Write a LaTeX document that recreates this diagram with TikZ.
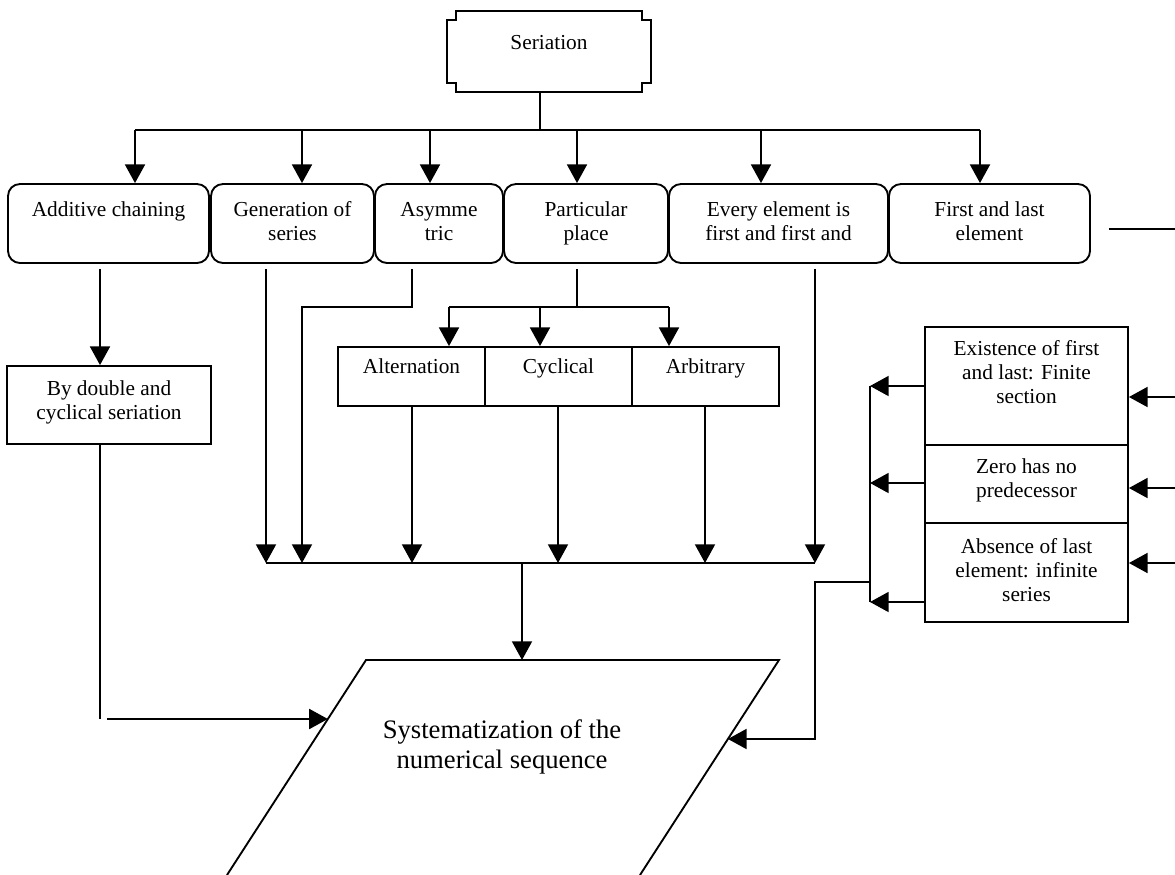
\documentclass[tikz,border=0pt]{standalone}
\usepackage{fontspec}
\setmainfont{Liberation Serif}
\usetikzlibrary{arrows.meta,calc}
\newcommand\liftby[2]{\raisebox{#1}[\height][\depth]{\begin{tabular}{@{}c@{}}#2\end{tabular}}}
\begin{document}
\begin{tikzpicture}[x=0.75pt,y=-0.75pt,line width=1.4pt,
  font=\fontsize{16}{18}\selectfont,
  arr/.style={-{Triangle[length=14pt,width=15pt]}},
  gap/.style={shorten <=3.75pt},
  box/.style={draw,inner sep=0pt,align=center},
  rbox/.style={box,rounded corners=9pt},
  wh/.style 2 args={minimum width=#1*0.75pt,minimum height=#2*0.75pt}]
\useasboundingbox (0,0) rectangle (1175,875);

% top node
\node[inner sep=0pt,wh={202}{79}] (ser) at (549,51.5) {\liftby{5pt}{Seriation}};
\draw ([xshift=6.75pt]ser.north west) -- ([xshift=-6.75pt]ser.north east)
  -- ++(0pt,-6.75pt) -- ++(6.75pt,0pt) -- ([yshift=6.75pt]ser.south east)
  -- ++(-6.75pt,0pt) -- ++(0pt,-6.75pt) -- ([xshift=6.75pt]ser.south west)
  -- ++(0pt,6.75pt) -- ++(-6.75pt,0pt) -- ([yshift=-6.75pt]ser.north west)
  -- ++(6.75pt,0pt) -- cycle;

% first row
\node[rbox,wh={201}{79}] (add) at (108.5,223.5) {\liftby{0pt}{Additive chaining\\ \mbox{}}};
\node[rbox,wh={163}{79}] (gen) at (292.5,223.5) {\liftby{0pt}{Generation of\\series}};
\node[rbox,wh={128}{79}] (asy) at (439,223.5) {\liftby{0pt}{Asymme\\tric}};
\node[rbox,wh={164}{79}] (par) at (586,223.5) {\liftby{0pt}{Particular\\place}};
\node[rbox,wh={219}{79}] (eve) at (778.5,223.5) {\liftby{0pt}{Every element is\\first and first and}};
\node[rbox,wh={201}{79}] (fal) at (989.5,223.5) {\liftby{0pt}{First and last\\element}};

% other boxes
\node[box,wh={204}{78}] (bd) at (109,405) {\liftby{1.5pt}{By double and\\cyclical seriation}};
\node[box,wh={147}{59}] (alt) at (411.5,376.5) {\liftby{5.6pt}{Alternation}};
\node[box,wh={147}{59}] (cyc) at (558.5,376.5) {\liftby{5.6pt}{Cyclical}};
\node[box,wh={147}{59}] (arb) at (705.5,376.5) {\liftby{5.6pt}{Arbitrary}};
\node[box,wh={203}{118}] (ex) at (1026.5,386) {\liftby{8.25pt}{Existence of first\\and last: Finite\\section}};
\node[box,wh={203}{78}] (zero) at (1026.5,484) {\liftby{2.6pt}{Zero has no\\predecessor}};
\node[box,wh={203}{99}] (abs) at (1026.5,572.5) {\liftby{0pt}{Absence of last\\element: infinite\\series}};

% parallelogram
\coordinate (pTL) at (366,660);
\coordinate (pTR) at (779,660);
\coordinate (pBL) at (227,875);
\coordinate (pBR) at (640,875);
\draw (pBL) -- (pTL) -- (pTR) -- (pBR);
\node[font=\fontsize{20}{22.5}\selectfont,align=center,inner sep=0pt] (sys) at (502,747)
  {Systematization of the\\numerical sequence};
\coordinate (lt) at ($(pTL)!0.2744!(pBL)$);
\coordinate (rt) at ($(pTR)!0.3674!(pBR)$);

% top bus
\coordinate (b0) at (540,130);
\coordinate (t1) at (135,130);
\coordinate (t2) at (302,130);
\coordinate (t3) at (430,130);
\coordinate (t4) at (577,130);
\coordinate (t5) at (761,130);
\coordinate (t6) at (980,130);
\draw (ser.south -| b0) -- (b0);
\draw (t1) -- (t6);
\draw[arr] (t1) -- (t1 |- add.north);
\draw[arr] (t2) -- (t2 |- gen.north);
\draw[arr] (t3) -- (t3 |- asy.north);
\draw[arr] (t4) -- (t4 |- par.north);
\draw[arr] (t5) -- (t5 |- eve.north);
\draw[arr] (t6) -- (t6 |- fal.north);

% left branch
\coordinate (xa) at (100,0);
\draw[arr,gap] (add.south -| xa) -- (bd.north -| xa);
\draw (bd.south -| xa) -- (xa |- lt);
\draw[arr] ($(xa |- lt)+(7,0)$) -- (lt);

% collecting bus
\coordinate (m1) at (266,563);
\coordinate (m2) at (302,563);
\coordinate (m3) at (412,563);
\coordinate (m4) at (558,563);
\coordinate (m5) at (705,563);
\coordinate (m6) at (815,563);
\coordinate (mc) at (522,563);
\coordinate (asyTurn) at (412,307);
\coordinate (asyDown) at (302,307);
\coordinate (parTurn) at (577,307);
\coordinate (s1) at (449,307);
\coordinate (s2) at (540,307);
\coordinate (s3) at (669,307);

\draw[arr,gap] (gen.south -| m1) -- (m1);
\draw[arr,gap] (asy.south -| asyTurn) -- (asyTurn) -- (asyDown) -- (m2);
\draw[gap] (par.south -| parTurn) -- (parTurn);
\draw (s1) -- (s3);
\draw[arr] (s1) -- (s1 |- alt.north);
\draw[arr] (s2) -- (s2 |- cyc.north);
\draw[arr] (s3) -- (s3 |- arb.north);
\draw[arr] (alt.south -| m3) -- (m3);
\draw[arr] (cyc.south -| m4) -- (m4);
\draw[arr] (arb.south -| m5) -- (m5);
\draw[arr,gap] (eve.south -| m6) -- (m6);
\draw (m1) -- (m6);
\draw[arr] (mc) -- (mc |- pTL);

% right side
\coordinate (fr) at (1175,229);
\draw ($(fal.east |- fr)+(18,0)$) -- (fr);
\coordinate (r1) at (1175,397);
\coordinate (r2) at (1175,488);
\coordinate (r3) at (1175,563);
\draw[arr] (r1) -- (r1 -| ex.east);
\draw[arr] (r2) -- (r2 -| zero.east);
\draw[arr] (r3) -- (r3 -| abs.east);
\coordinate (v1) at (870,386);
\coordinate (v2) at (870,483);
\coordinate (v3) at (870,602);
\draw[arr] (ex.west |- v1) -- (v1);
\draw[arr] (zero.west |- v2) -- (v2);
\draw[arr] (abs.west |- v3) -- (v3);
\draw (v1) -- (v3);
\coordinate (vj) at (870,582);
\coordinate (cj) at (815,582);
\draw[arr] (vj) -- (cj) -- (cj |- rt) -- (rt);
\end{tikzpicture}
\end{document}
